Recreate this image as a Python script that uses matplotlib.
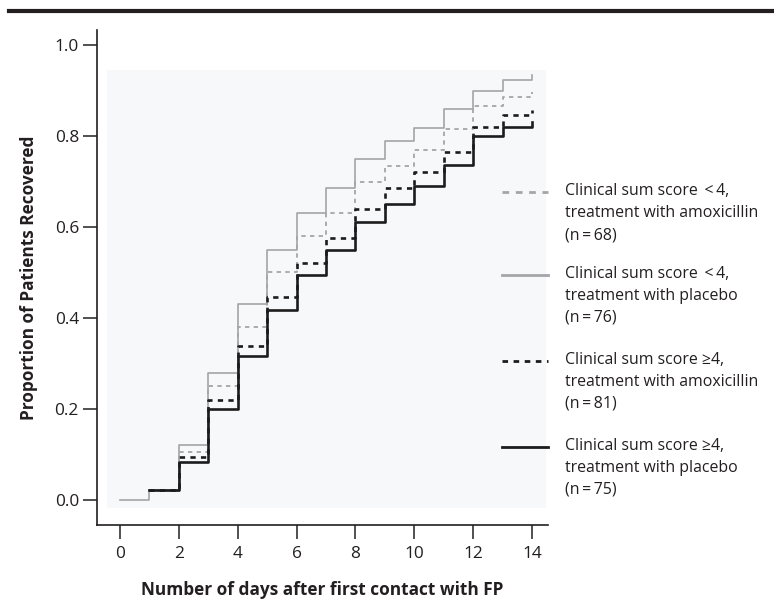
import matplotlib
matplotlib.use("Agg")
import matplotlib.pyplot as plt
from matplotlib.lines import Line2D
from matplotlib.patches import Rectangle

plt.rcParams['font.family'] = ['Open Sans', 'DejaVu Sans']

# days after first contact (step changes happen at whole days)
days_placebo_low = list(range(0, 15))
days = list(range(1, 15))

# proportion recovered
low_amox = [0.02, 0.105, 0.25, 0.38, 0.50, 0.58, 0.63, 0.70, 0.735, 0.77, 0.815, 0.865, 0.886, 0.897]
low_placebo = [0.0, 0.022, 0.12, 0.28, 0.43, 0.55, 0.63, 0.685, 0.75, 0.79, 0.818, 0.86, 0.90, 0.923, 0.935]
high_amox = [0.022, 0.095, 0.22, 0.338, 0.446, 0.52, 0.575, 0.64, 0.685, 0.72, 0.765, 0.82, 0.846, 0.857]
high_placebo = [0.022, 0.083, 0.20, 0.316, 0.417, 0.494, 0.55, 0.61, 0.65, 0.69, 0.736, 0.80, 0.82, 0.83]

labels = [
    "Clinical sum score \u2009<\u20094,\ntreatment with amoxicillin\n(n\u2009=\u200968)",
    "Clinical sum score \u2009<\u20094,\ntreatment with placebo\n(n\u2009=\u200976)",
    "Clinical sum score \u22654,\ntreatment with amoxicillin\n(n\u2009=\u200981)",
    "Clinical sum score \u22654,\ntreatment with placebo\n(n\u2009=\u200975)",
]

xticks = [0, 2, 4, 6, 8, 10, 12, 14]
yticks = [0.0, 0.2, 0.4, 0.6, 0.8, 1.0]

GREY = "#a3a6a9"
BLACK = "#1c1c1c"
TXT = "#231f20"
FS = 12.4
LEG_FS = 11.4

fig = plt.figure(figsize=(7.74, 6.05), dpi=100)
ax = fig.add_axes([97 / 774, 80 / 605, 451 / 774, 495 / 605])

# faint panel behind the curves
ax.add_patch(Rectangle((-0.44, -0.018), 14.91, 0.963, facecolor="#f6f8fa",
                       edgecolor="none", zorder=0))

styles = [
    dict(color=GREY, lw=1.3, ls=(0, (2.4, 2.4))),
    dict(color=GREY, lw=1.2, ls="-"),
    dict(color=BLACK, lw=1.9, ls=(0, (2.0, 2.0))),
    dict(color=BLACK, lw=1.9, ls="-"),
]

ax.step(days, low_amox, where="post", zorder=2, **styles[0])
ax.step(days_placebo_low, low_placebo, where="post", zorder=2, **styles[1])
ax.step(days, high_amox, where="post", zorder=3, **styles[2])
ax.step(days, high_placebo, where="post", zorder=3, **styles[3])

ax.set_xlim(-0.78, 14.54)
ax.set_ylim(-0.055, 1.033)
ax.set_xticks(xticks)
ax.set_yticks(yticks)
ax.set_yticklabels([f"{v:.1f}" for v in yticks])
ax.tick_params(direction="out", length=10, width=1.1, color=TXT,
               labelsize=FS, labelcolor=TXT)
ax.tick_params(axis="y", pad=3)
ax.tick_params(axis="x", pad=5)
ax.set_facecolor("none")
for s in ["top", "right"]:
    ax.spines[s].set_visible(False)
for s in ["left", "bottom"]:
    ax.spines[s].set_linewidth(1.2)
    ax.spines[s].set_color(TXT)

ax.set_xlabel("Number of days after first contact with FP", fontsize=FS,
              fontweight="bold", color=TXT, labelpad=14)
ax.set_ylabel("Proportion of Patients Recovered", fontsize=FS,
              fontweight="bold", color=TXT, labelpad=12)

# legend drawn by hand, handle level with first text line
leg_y = [192, 275, 361, 447]
for st, lab, y in zip(styles, labels, leg_y):
    yf = 1 - y / 605
    fig.add_artist(Line2D([502 / 774, 548 / 774], [yf, yf], transform=fig.transFigure,
                          color=st["color"], lw=2.0, ls=st["ls"]))
    fig.text(565 / 774, yf + 9 / 605, lab, ha="left", va="top", fontsize=LEG_FS,
             color=TXT, linespacing=1.5, transform=fig.transFigure)

# thick rule across the top
fig.add_artist(Line2D([9 / 774, 1.0], [1 - 11 / 605, 1 - 11 / 605],
                      transform=fig.transFigure, color=TXT, lw=3.0))

fig.savefig("out.png", dpi=100, facecolor="white")
